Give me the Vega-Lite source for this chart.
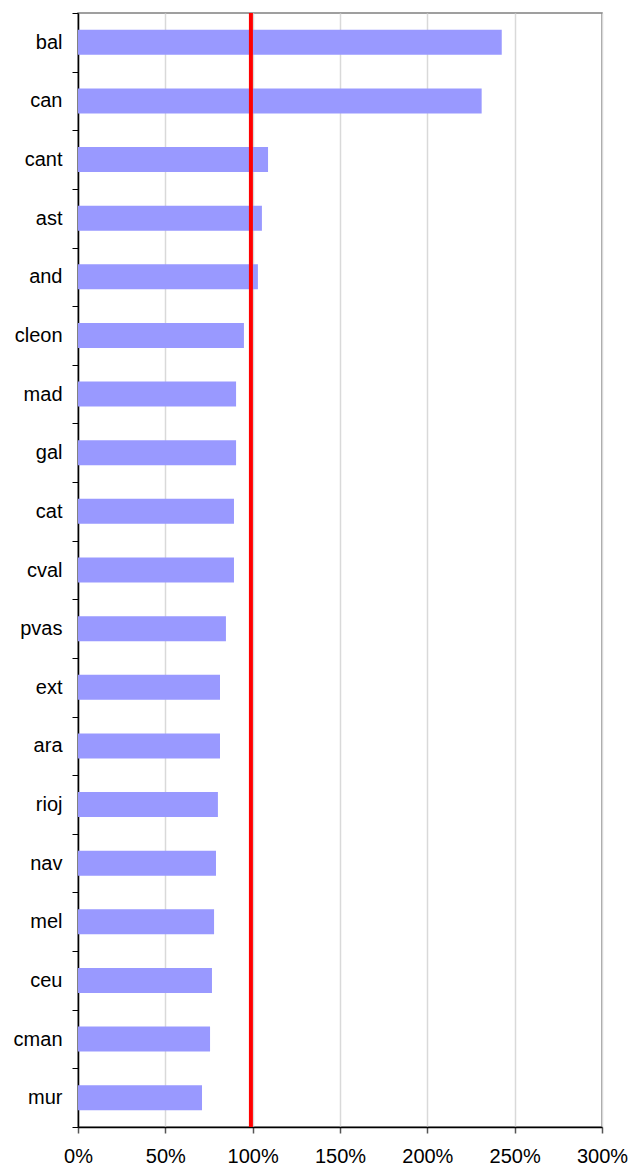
{
  "$schema": "https://vega.github.io/schema/vega-lite/v6.json",
  "autosize": "none",
  "width": 524,
  "height": 1114,
  "padding": {"left": 78, "top": 13, "right": 30, "bottom": 39},
  "background": "white",
  "config": {
    "view": {"stroke": "#808080", "strokeWidth": 1.5},
    "font": "Liberation Sans"
  },
  "datasets": {
    "regions": [
      {"region": "bal", "value": 2.426},
      {"region": "can", "value": 2.311},
      {"region": "cant", "value": 1.088},
      {"region": "ast", "value": 1.053},
      {"region": "and", "value": 1.03},
      {"region": "cleon", "value": 0.95},
      {"region": "mad", "value": 0.905},
      {"region": "gal", "value": 0.905},
      {"region": "cat", "value": 0.893},
      {"region": "cval", "value": 0.893},
      {"region": "pvas", "value": 0.847},
      {"region": "ext", "value": 0.813},
      {"region": "ara", "value": 0.813},
      {"region": "rioj", "value": 0.801},
      {"region": "nav", "value": 0.79},
      {"region": "mel", "value": 0.779},
      {"region": "ceu", "value": 0.767},
      {"region": "cman", "value": 0.756},
      {"region": "mur", "value": 0.71}
    ],
    "reference": [{"ref": 0.99}]
  },
  "layer": [
    {
      "data": {"name": "regions"},
      "mark": {"type": "bar", "color": "#9999ff", "size": 25},
      "encoding": {
        "y": {
          "field": "region",
          "type": "nominal",
          "sort": null,
          "scale": {"paddingInner": 0, "paddingOuter": 0},
          "axis": {
            "title": null,
            "tickBand": "extent",
            "domainColor": "#000000",
            "domainWidth": 1.5,
            "tickColor": "#000000",
            "tickSize": 6,
            "labelFontSize": 20,
            "labelColor": "#000000",
            "labelPadding": 10,
            "labelFont": "Liberation Sans",
            "grid": false
          }
        },
        "x": {
          "field": "value",
          "type": "quantitative",
          "scale": {"domain": [0, 3], "nice": false},
          "axis": {
            "title": null,
            "values": [0, 0.5, 1, 1.5, 2, 2.5, 3],
            "format": ".0%",
            "grid": true,
            "gridColor": "#d9d9d9",
            "gridWidth": 1.5,
            "domainColor": "#000000",
            "domainWidth": 1.5,
            "tickColor": "#555555",
            "tickSize": 6,
            "tickWidth": 1.5,
            "labelFontSize": 20,
            "labelColor": "#000000",
            "labelPadding": 13,
            "labelFont": "Liberation Sans",
            "labelFlush": false
          }
        }
      }
    },
    {
      "data": {"name": "reference"},
      "mark": {"type": "rule", "color": "#ff0000", "strokeWidth": 4},
      "encoding": {
        "x": {"field": "ref", "type": "quantitative"}
      }
    }
  ]
}
